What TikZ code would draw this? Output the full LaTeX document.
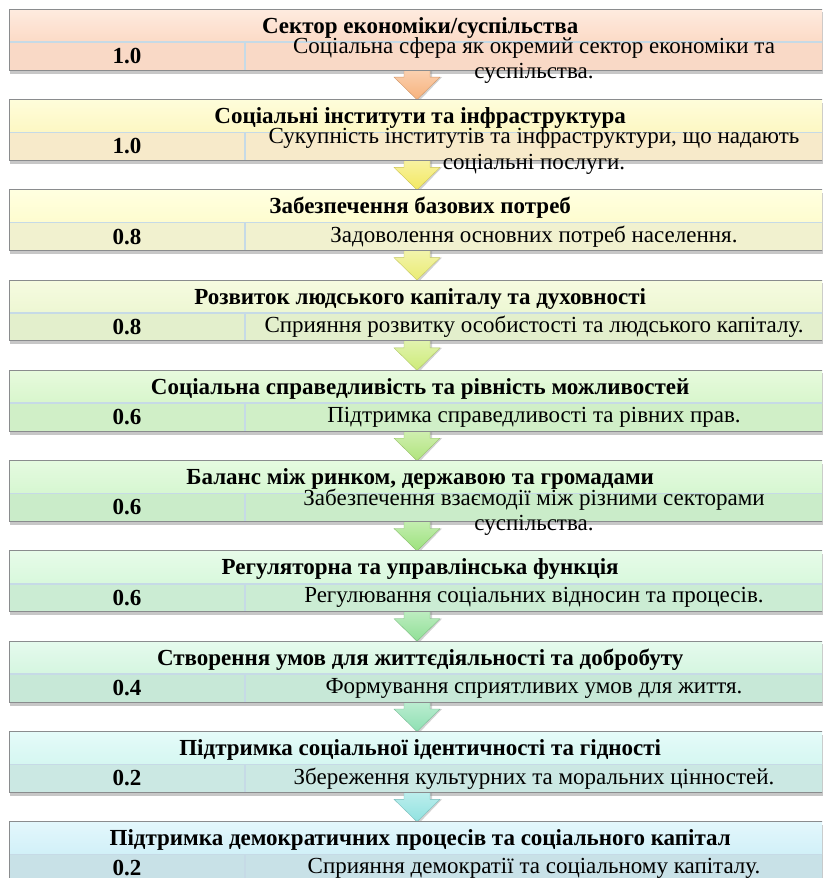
\documentclass[tikz,border=0pt]{standalone}
\usepackage{fontspec}
\setmainfont{Liberation Serif}
\newfontfamily\tnr{Liberation Serif}
\usetikzlibrary{calc}
\pgfdeclarelayer{back}
\pgfdeclarelayer{bg}
\pgfsetlayers{back,bg,main}
\definecolor{hA1}{HTML}{FEEBDF}\definecolor{hA2}{HTML}{FCDAC6}\definecolor{rA}{HTML}{F9D9C6}
\definecolor{hB1}{HTML}{FEFDDA}\definecolor{hB2}{HTML}{FDF7C3}\definecolor{rB}{HTML}{F7EACA}
\definecolor{hC1}{HTML}{FFFFE0}\definecolor{hC2}{HTML}{FEFCCF}\definecolor{rC}{HTML}{F1F1CF}
\definecolor{hD1}{HTML}{F6FBE0}\definecolor{hD2}{HTML}{EDF7D3}\definecolor{rD}{HTML}{E3EFCC}
\definecolor{hE1}{HTML}{E7FADD}\definecolor{hE2}{HTML}{D8F6CC}\definecolor{rE}{HTML}{D0EFC7}
\definecolor{hF1}{HTML}{E5FAE0}\definecolor{hF2}{HTML}{D6F7D1}\definecolor{rF}{HTML}{CAECC9}
\definecolor{hG1}{HTML}{E7FBE9}\definecolor{hG2}{HTML}{D8F8DC}\definecolor{rG}{HTML}{CBECD3}
\definecolor{hH1}{HTML}{E5FAED}\definecolor{hH2}{HTML}{D5F6E0}\definecolor{rH}{HTML}{C7E8D7}
\definecolor{hI1}{HTML}{E5FBF9}\definecolor{hI2}{HTML}{D5F7F1}\definecolor{rI}{HTML}{CBE8E3}
\definecolor{hJ1}{HTML}{E3F7FC}\definecolor{hJ2}{HTML}{D1F0F8}\definecolor{rJ}{HTML}{C8E1E7}
\definecolor{aA}{HTML}{F7B27C}\definecolor{aB}{HTML}{F3E962}\definecolor{aC}{HTML}{EAEC74}
\definecolor{aD}{HTML}{CDEB78}\definecolor{aE}{HTML}{B0E47C}\definecolor{aF}{HTML}{9CE27C}
\definecolor{aG}{HTML}{90E096}\definecolor{aH}{HTML}{8EE0B2}\definecolor{aI}{HTML}{90E2E0}
\definecolor{divc}{HTML}{C6DAE6}\definecolor{outc}{HTML}{8A8C8E}
\tikzset{
  headbox/.style={rectangle, anchor=north west, minimum width=822pt, minimum height=32.4pt, inner sep=0pt},
  titletext/.style={inner sep=0pt, font=\tnr\fontsize{23}{26}\selectfont\bfseries},
  rowbox/.style={rectangle, anchor=north west, minimum width=822pt, minimum height=27.6pt, inner sep=0pt},
  numtext/.style={inner sep=0pt, font=\tnr\fontsize{23}{26}\selectfont\bfseries},
  desctext/.style={inner sep=0pt, align=center, font=\tnr\fontsize{23}{25.5}\selectfont},
  divline/.style={draw=divc, line width=1.6pt},
  outline/.style={draw=outc, line width=0.9pt},
  shadowc/.style={fill=black!55, opacity=0.4},
}
\newcommand\blk[9]{%
  \node[headbox, top color=#3, bottom color=#4] (h#1) at (9,-#2) {};
  \node[rowbox, fill=#5] (r#1) at (h#1.south west) {};
  \begin{pgfonlayer}{bg}
    \fill[shadowc] ($(h#1.north west)+(1,-3)$) rectangle ($(r#1.south east)+(1,-3.5)$);
  \end{pgfonlayer}
  \draw[divline] (r#1.north west) -- (r#1.north east);
  \draw[divline] (r#1.north -| colx) -- (r#1.south -| colx);
  \draw[outline] (h#1.north west) rectangle (r#1.south east);
  \node[titletext, yshift=-2pt] (t#1) at (h#1.center) {#6};
  \node[numtext] (n#1) at (r#1.west -| numx) {#7};
  \node[desctext, yshift=#9] (d#1) at (r#1.west -| descx) {#8};
}
\newcommand\arr[3]{%
  \begin{pgfonlayer}{bg}
  \fill[black!45, opacity=0.4] ($(r#1.south -| ax)+(-12,4)$) -- ++(0,-11) -- ++(-10,0) -- ($(h#2.north -| ax)+(1.5,-2)$) -- ($(r#1.south -| ax)+(25,-7)$) -- ++(-10,0) -- ++(0,11) -- cycle;
  \shade[top color=#3!55!white, bottom color=#3, draw=#3!85!black, line width=0.4pt]
    ($(r#1.south -| ax)+(-13,4)$) -- ++(0,-11) -- ++(-10,0) -- (h#2.north -| ax) -- ($(r#1.south -| ax)+(23,-7)$) -- ++(-10,0) -- ++(0,11) -- cycle;
  \end{pgfonlayer}
}
\begin{document}
\begin{tikzpicture}[x=1pt,y=1pt]
\useasboundingbox (0,0) rectangle (822,-878);
\clip (0,0) rectangle (822,-878);
\begin{pgfonlayer}{back}
\fill[white] (0,0) rectangle (822,-878);
\end{pgfonlayer}
\coordinate (colx) at (245,0);
\coordinate (numx) at (127,0);
\coordinate (descx) at (534,0);
\coordinate (ax) at (417,0);
\blk{1}{9.3}{hA1}{hA2}{rA}{Сектор економіки/суспільства}{1.0}{Соціальна сфера як окремий сектор економіки та\\суспільства.}{-4.5pt}
\blk{2}{99.6}{hB1}{hB2}{rB}{Соціальні інститути та інфраструктура}{1.0}{Сукупність інститутів та інфраструктури, що надають\\соціальні послуги.}{-4.5pt}
\blk{3}{189.8}{hC1}{hC2}{rC}{Забезпечення базових потреб}{0.8}{Задоволення основних потреб населення.}{0pt}
\blk{4}{280.1}{hD1}{hD2}{rD}{Розвиток людського капіталу та духовності}{0.8}{Сприяння розвитку особистості та людського капіталу.}{0pt}
\blk{5}{370.4}{hE1}{hE2}{rE}{Соціальна справедливість та рівність можливостей}{0.6}{Підтримка справедливості та рівних прав.}{0pt}
\blk{6}{460.7}{hF1}{hF2}{rF}{Баланс між ринком, державою та громадами}{0.6}{Забезпечення взаємодії між різними секторами\\суспільства.}{-4.5pt}
\blk{7}{550.9}{hG1}{hG2}{rG}{Регуляторна та управлінська функція}{0.6}{Регулювання соціальних відносин та процесів.}{0pt}
\blk{8}{641.2}{hH1}{hH2}{rH}{Створення умов для життєдіяльності та добробуту}{0.4}{Формування сприятливих умов для життя.}{0pt}
\blk{9}{731.5}{hI1}{hI2}{rI}{Підтримка соціальної ідентичності та гідності}{0.2}{Збереження культурних та моральних цінностей.}{0pt}
\blk{10}{821.7}{hJ1}{hJ2}{rJ}{Підтримка демократичних процесів та соціального капітал}{0.2}{Сприяння демократії та соціальному капіталу.}{0pt}
\arr{1}{2}{aA}
\arr{2}{3}{aB}
\arr{3}{4}{aC}
\arr{4}{5}{aD}
\arr{5}{6}{aE}
\arr{6}{7}{aF}
\arr{7}{8}{aG}
\arr{8}{9}{aH}
\arr{9}{10}{aI}
\end{tikzpicture}
\end{document}
